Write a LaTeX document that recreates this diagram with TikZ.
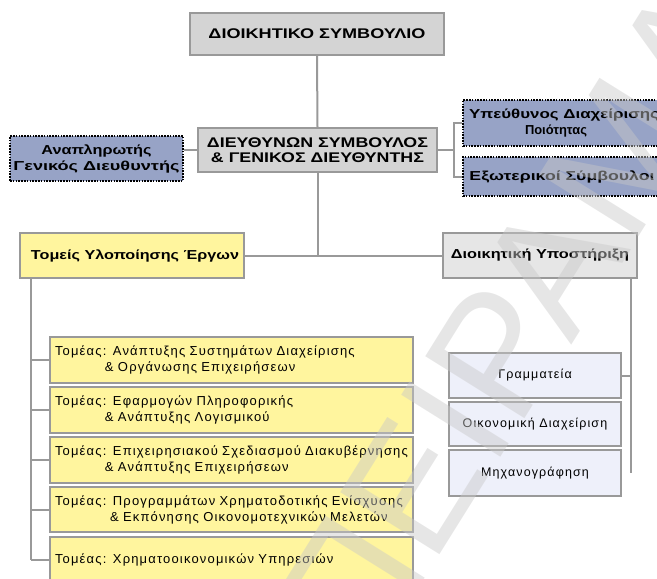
\documentclass[tikz,border=0pt]{standalone}
\usepackage{fontspec}
\setmainfont{Liberation Sans}
\usepackage{graphicx}
% stretch one line of text to a given width (in pt), keeping its height
\newcommand\fitline[2]{\resizebox{#1pt}{\height}{#2}}
\definecolor{edgegray}{HTML}{999999}
\definecolor{headfill}{HTML}{D4D4D4}
\definecolor{staffblue}{HTML}{97A3C6}
\definecolor{unityellow}{HTML}{FFF59E}
\definecolor{supportfill}{HTML}{E6E6E6}
\definecolor{officefill}{HTML}{EEF0FA}
\definecolor{markgray}{HTML}{C8C8C8}
\tikzset{
  basebox/.style={draw=edgegray, line width=2.2pt, inner sep=0pt, align=center},
  headbox/.style={basebox, fill=headfill, font=\bfseries\fontsize{14}{16}\selectfont},
  staffbox/.style={fill=staffblue, draw=black, line width=1.6pt, dash pattern=on 1.6pt off 1.2pt,
    inner sep=0pt, align=center, font=\bfseries\fontsize{13}{16}\selectfont},
  unitbox/.style={basebox, fill=unityellow, minimum width=363pt, text width=353pt, align=left,
    font=\fontsize{13}{16}\selectfont\addfontfeatures{LetterSpace=9}},
  officebox/.style={basebox, fill=officefill, minimum width=172pt,
    font=\fontsize{12.5}{16}\selectfont\addfontfeatures{LetterSpace=9}},
  link/.style={draw=edgegray, line width=2pt},
}
\begin{document}
\begin{tikzpicture}[x=1pt, y=-1pt]
\useasboundingbox (0,0) rectangle (657,579);
\clip (0,0) rectangle (657,579);

% management
\node[headbox, minimum width=254pt, minimum height=42pt] (board) at (317,34)
  {\fitline{217}{ΔΙΟΙΚΗΤΙΚΟ ΣΥΜΒΟΥΛΙΟ}};
\node[headbox, minimum width=239pt, minimum height=44pt] (ceo) at (317.5,150)
  {\fitline{221}{ΔΙΕΥΘΥΝΩΝ ΣΥΜΒΟΥΛΟΣ}\\[-1pt]\fitline{213}{\& ΓΕΝΙΚΟΣ ΔΙΕΥΘΥΝΤΗΣ}};

% staff positions
\node[staffbox, minimum width=173pt, minimum height=45pt] (deputy) at (96.5,158.5)
  {\fitline{110}{Αναπληρωτής}\\\fitline{166}{Γενικός Διευθυντής}};
\node[staffbox, minimum width=202pt, minimum height=46pt] (quality) at (564,123)
  {\fitline{190}{Υπεύθυνος Διαχείρισης}\\\fitline{62}{Ποιότητας}\hspace*{16pt}};
\node[staffbox, minimum width=202pt, minimum height=39pt] (external) at (564,176.5)
  {\fitline{185}{Εξωτερικοί Σύμβουλοι}\hspace*{4pt}};

% second level
\node[basebox, fill=unityellow, minimum width=224pt, minimum height=45pt,
  font=\bfseries\fontsize{13}{16}\selectfont] (units) at (132,255.5)
  {\fitline{208}{Τομείς Υλοποίησης Έργων}\hspace*{-6pt}};
\node[basebox, fill=supportfill, minimum width=194pt, minimum height=45pt,
  font=\bfseries\fontsize{13}{16}\selectfont] (support) at (540,255.5)
  {\fitline{178}{Διοικητική Υποστήριξη}};

% project units
\node[unitbox, minimum height=46pt] (u1) at (231.5,360)
  {Τομέας: Ανάπτυξης Συστημάτων Διαχείρισης\\\hspace*{50pt}\& Οργάνωσης Επιχειρήσεων};
\node[unitbox, minimum height=46pt] (u2) at (231.5,410)
  {Τομέας: Εφαρμογών Πληροφορικής\\\hspace*{50pt}\& Ανάπτυξης Λογισμικού};
\node[unitbox, minimum height=46pt] (u3) at (231.5,460)
  {Τομέας: Επιχειρησιακού Σχεδιασμού Διακυβέρνησης\\\hspace*{50pt}\& Ανάπτυξης Επιχειρήσεων};
\node[unitbox, minimum height=45pt] (u4) at (231.5,509.5)
  {Τομέας: Προγραμμάτων Χρηματοδοτικής Ενίσχυσης\\\hspace*{55pt}\& Εκπόνησης Οικονομοτεχνικών Μελετών};
\node[unitbox, minimum height=46pt] (u5) at (231.5,560)
  {Τομέας: Χρηματοοικονομικών Υπηρεσιών};

% support offices
\node[officebox, minimum height=45pt] (o1) at (535,375.5) {Γραμματεία};
\node[officebox, minimum height=44pt] (o2) at (535,424) {Οικονομική Διαχείριση};
\node[officebox, minimum height=46pt] (o3) at (535,473) {Μηχανογράφηση};

% connectors
\coordinate (hub) at (ceo.south |- units.east);
\coordinate (rbr) at (454,150);
\coordinate (lspine) at ([xshift=12pt]units.south west);
\coordinate (rspine) at ([xshift=-7pt]support.south east);
\draw[link] (board.south) -- (ceo.north);
\draw[link] (ceo.south) -- (hub);
\draw[link] (units.east) -- (support.west);
\draw[link] (ceo.west) -- (ceo.west -| deputy.east);
\draw[link] (ceo.east) -- (rbr);
\draw[link] (quality.west) -| (rbr) |- (external.west);
\draw[link] (lspine) -- (lspine |- u5.west);
\foreach \u in {u1,u2,u3,u4,u5} \draw[link] (lspine |- \u.west) -- (\u.west);
\draw[link] (rspine) -- (rspine |- o3.east);
\draw[link] (rspine |- o1.east) -- (o1.east);

% diagonal watermark
\node[rotate=58, anchor=west, text=markgray, opacity=0.45, inner sep=0pt,
  font=\fontsize{170}{170}\selectfont] (mark) at (318,640) {ΠΕΙΡΑΜΑΤΙΚΟ};
\end{tikzpicture}
\end{document}
